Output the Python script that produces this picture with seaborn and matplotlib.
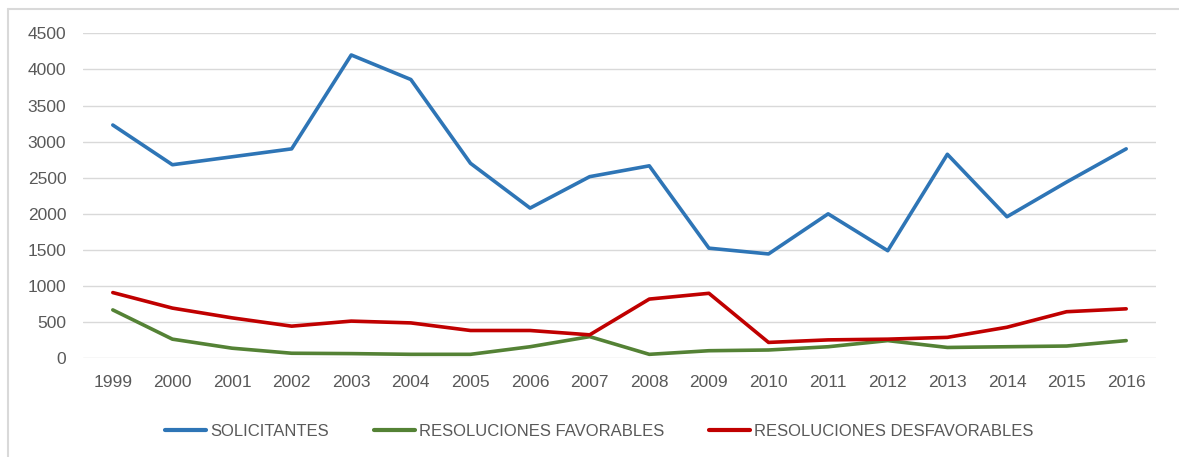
import matplotlib
matplotlib.use("Agg")
import matplotlib.pyplot as plt
from matplotlib.lines import Line2D
import seaborn as sns
import pandas as pd

years = ["1999", "2000", "2001", "2002", "2003", "2004", "2005", "2006", "2007",
         "2008", "2009", "2010", "2011", "2012", "2013", "2014", "2015", "2016"]
solicitantes = [3230, 2680, 2790, 2900, 4200, 3860, 2700, 2080, 2515,
                2665, 1525, 1445, 2000, 1490, 2825, 1960, 2440, 2900]
favorables = [670, 265, 140, 70, 65, 55, 55, 160, 300,
              55, 105, 115, 160, 245, 150, 160, 170, 245]
desfavorables = [910, 695, 560, 445, 515, 490, 385, 385, 325,
                 820, 900, 220, 255, 265, 290, 430, 645, 685]
series_names = ["SOLICITANTES", "RESOLUCIONES FAVORABLES", "RESOLUCIONES DESFAVORABLES"]
colors = ["#2E75B6", "#548235", "#C00000"]

df = pd.DataFrame({"year": years * 3,
                   "value": solicitantes + favorables + desfavorables,
                   "serie": [series_names[0]] * 18 + [series_names[1]] * 18 + [series_names[2]] * 18})
df["x"] = df["year"].map({y: i for i, y in enumerate(years)})

sns.set_style("white")
plt.rcParams["font.family"] = ["Liberation Sans", "DejaVu Sans"]

fig = plt.figure(figsize=(11.79, 4.57), dpi=100)
ax = fig.add_axes([83 / 1179, 1 - 358.3 / 457, (1156 - 83) / 1179, (358.3 - 33.3) / 457])

sns.lineplot(data=df, x="x", y="value", hue="serie", palette=colors,
             hue_order=series_names, linewidth=2.6, ax=ax, legend=False, sort=False)

ax.set_xlim(-0.5, len(years) - 0.5)
ax.set_ylim(0, 4500)
ax.set_yticks(range(0, 4501, 500))
ax.set_xticks(range(len(years)))
ax.set_xticklabels(years)
ax.grid(axis="y", color="#D9D9D9", linewidth=1)
ax.set_axisbelow(True)
for s in ax.spines.values():
    s.set_visible(False)
ax.tick_params(axis="both", length=0, labelsize=12.5, colors="#595959")
ax.tick_params(axis="x", pad=12)
ax.tick_params(axis="y", pad=12)
ax.set_xlabel("")
ax.set_ylabel("")

handles = [Line2D([0], [0], color=c, linewidth=3) for c in colors]
fig.legend(handles, series_names, loc="center", bbox_to_anchor=(0.5 + 10 / 1179, 1 - 431 / 457),
           ncol=3, frameon=False, fontsize=12, labelcolor="#595959",
           handlelength=2.45, handletextpad=0.25, columnspacing=2.7)

fig.add_artist(Line2D([8 / 1179, 8 / 1179], [0, 1 - 9 / 457], color="#D9D9D9", linewidth=1.5))
fig.add_artist(Line2D([8 / 1179, 1], [1 - 9 / 457, 1 - 9 / 457], color="#D9D9D9", linewidth=1.5))

fig.savefig("out.png", dpi=100)
